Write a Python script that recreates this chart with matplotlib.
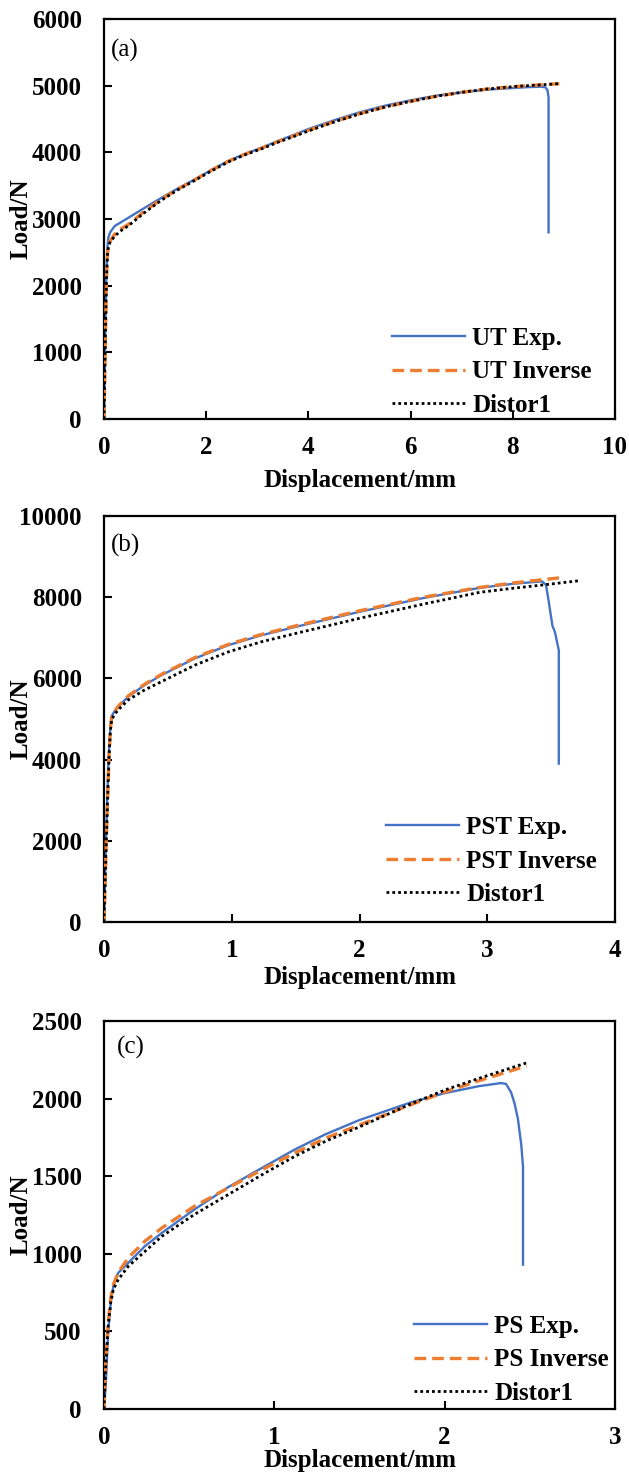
import matplotlib
matplotlib.use("Agg")
import matplotlib.pyplot as plt

plt.rcParams['font.family'] = ['Liberation Serif', 'DejaVu Serif']

# ---------------- Data ----------------
# (a) Uniaxial tension
ut_exp_x = [0.000, 0.010, 0.025, 0.045, 0.065, 0.085, 0.12, 0.21, 0.35, 0.48, 0.80, 1.13, 1.45, 1.78,
            2.10, 2.43, 2.75, 3.09, 3.40, 3.74, 4.00, 4.50, 5.00, 5.50, 6.00, 6.50, 7.00, 7.50, 8.00,
            8.30, 8.55, 8.64, 8.68, 8.70, 8.70]
ut_exp_y = [0, 500, 1300, 2100, 2550, 2720, 2800, 2895, 2960, 3020, 3170, 3320, 3460, 3595,
            3735, 3870, 3975, 4070, 4170, 4270, 4350, 4480, 4600, 4700, 4780, 4850, 4900, 4940, 4965,
            4978, 4985, 4975, 4930, 4820, 2800]
ut_inv_x = [0.000, 0.010, 0.030, 0.050, 0.070, 0.090, 0.12, 0.21, 0.35, 0.48, 0.80, 1.13, 1.45, 1.78,
            2.10, 2.43, 2.75, 3.09, 3.40, 3.74, 4.00, 4.50, 5.00, 5.50, 6.00, 6.50, 7.00, 7.50, 8.00,
            8.50, 8.91]
ut_inv_y = [0, 450, 1350, 2150, 2500, 2620, 2670, 2775, 2860, 2920, 3120, 3300, 3450, 3590,
            3730, 3865, 3970, 4065, 4160, 4255, 4330, 4460, 4580, 4680, 4765, 4840, 4900, 4950, 4985,
            5010, 5030]
ut_dis_x = [0.000, 0.010, 0.030, 0.050, 0.070, 0.090, 0.12, 0.21, 0.35, 0.48, 0.80, 1.13, 1.45, 1.78,
            2.10, 2.43, 2.75, 3.09, 3.40, 3.74, 4.00, 4.50, 5.00, 5.50, 6.00, 6.50, 7.00, 7.50, 8.00,
            8.50, 8.91]
ut_dis_y = [0, 450, 1350, 2150, 2480, 2600, 2650, 2745, 2835, 2900, 3100, 3285, 3440, 3580,
            3720, 3855, 3960, 4055, 4150, 4245, 4320, 4455, 4575, 4680, 4765, 4840, 4900, 4950, 4985,
            5010, 5030]

# (b) Plane strain tension
pst_exp_x = [0.000, 0.008, 0.016, 0.025, 0.035, 0.048, 0.058, 0.080, 0.11, 0.19, 0.32, 0.45, 0.71,
             0.97, 1.23, 1.49, 2.00, 2.50, 2.94, 3.20, 3.43, 3.46, 3.48, 3.51, 3.53, 3.56, 3.56]
pst_exp_y = [0, 1000, 2000, 3000, 4000, 4700, 5060, 5180, 5300, 5550, 5840, 6080, 6490,
             6815, 7060, 7262, 7640, 7980, 8230, 8330, 8390, 8300, 7920, 7300, 7140, 6690, 3900]
pst_inv_x = [0.000, 0.010, 0.020, 0.030, 0.040, 0.050, 0.060, 0.080, 0.11, 0.19, 0.32, 0.45, 0.71,
             0.97, 1.23, 1.49, 2.00, 2.50, 2.94, 3.20, 3.43, 3.59]
pst_inv_y = [0, 1100, 2200, 3200, 4100, 4750, 5050, 5170, 5310, 5570, 5860, 6100, 6510,
             6835, 7080, 7285, 7665, 8000, 8240, 8350, 8430, 8485]
pst_dis_x = [0.000, 0.010, 0.020, 0.030, 0.040, 0.050, 0.060, 0.080, 0.11, 0.19, 0.32, 0.45, 0.71,
             0.97, 1.23, 1.49, 2.00, 2.50, 2.94, 3.20, 3.43, 3.73]
pst_dis_y = [0, 1100, 2200, 3200, 4100, 4700, 4980, 5100, 5220, 5470, 5720, 5920, 6325,
             6650, 6900, 7100, 7480, 7830, 8120, 8220, 8300, 8410]

# (c) Plane shear
ps_exp_x = [0.000, 0.010, 0.025, 0.040, 0.050, 0.060, 0.084, 0.143, 0.24, 0.34, 0.53, 0.73, 0.93,
            1.12, 1.30, 1.50, 1.80, 2.00, 2.20, 2.33, 2.36, 2.39, 2.41, 2.43, 2.45, 2.46, 2.46]
ps_exp_y = [0, 150, 500, 690, 760, 820, 878, 942, 1049, 1135, 1285, 1430, 1555,
            1672, 1770, 1862, 1975, 2035, 2080, 2100, 2095, 2040, 1970, 1870, 1700, 1560, 930]
ps_inv_x = [0.000, 0.010, 0.025, 0.040, 0.055, 0.084, 0.143, 0.24, 0.34, 0.53, 0.73, 0.93, 1.12,
            1.30, 1.50, 1.80, 2.00, 2.20, 2.48]
ps_inv_y = [0, 300, 560, 720, 800, 880, 975, 1081, 1167, 1306, 1425, 1543, 1650,
            1745, 1830, 1960, 2042, 2115, 2210]
ps_dis_x = [0.000, 0.010, 0.025, 0.040, 0.055, 0.084, 0.143, 0.34, 0.53, 0.73, 0.93, 1.12,
            1.30, 1.50, 1.80, 2.00, 2.20, 2.48]
ps_dis_y = [0, 280, 540, 690, 770, 835, 920, 1113, 1253, 1382, 1511, 1628,
            1725, 1818, 1965, 2055, 2130, 2230]

panel_tags = ['(a)', '(b)', '(c)']
legend_labels = [['UT Exp.', 'UT Inverse', 'Distor1'],
                 ['PST Exp.', 'PST Inverse', 'Distor1'],
                 ['PS Exp.', 'PS Inverse', 'Distor1']]
x_limits = [(0, 10), (0, 4), (0, 3)]
y_limits = [(0, 6000), (0, 10000), (0, 2500)]
x_steps = [2, 1, 1]
y_steps = [1000, 2000, 500]

series = [
    ((ut_exp_x, ut_exp_y), (ut_inv_x, ut_inv_y), (ut_dis_x, ut_dis_y)),
    ((pst_exp_x, pst_exp_y), (pst_inv_x, pst_inv_y), (pst_dis_x, pst_dis_y)),
    ((ps_exp_x, ps_exp_y), (ps_inv_x, ps_inv_y), (ps_dis_x, ps_dis_y)),
]

# ---------------- Layout ----------------
W, H = 629, 1474
fig = plt.figure(figsize=(W / 100, H / 100), dpi=100)

# axes boxes in pixel coords (left, top, right, bottom)
boxes = [(104, 19, 615, 419), (104, 516, 615, 922), (104, 1021, 615, 1409)]
xlabel_y = [480, 977, 1460]
tag_pos = [(111, 50), (111, 545), (117, 1047)]
legend_pos = [(392, 372), (386, 861), (414, 1360)]

BLUE = '#4472C4'
ORANGE = '#ED7D31'
FS = 18

for i in range(3):
    l, t, r, b = boxes[i]
    ax = fig.add_axes([l / W, 1 - b / H, (r - l) / W, (b - t) / H])
    (ex, ey), (ix, iy), (dx, dy) = series[i]
    ax.plot(ex, ey, color=BLUE, lw=1.7, label=legend_labels[i][0], zorder=2)
    ax.plot(ix, iy, color=ORANGE, lw=2.4, dashes=(3.5, 1.8), label=legend_labels[i][1], zorder=3)
    ax.plot(dx, dy, color='black', lw=2.0, dashes=(1, 1.1), label=legend_labels[i][2], zorder=4)

    ax.set_xlim(*x_limits[i])
    ax.set_ylim(*y_limits[i])
    xs = x_steps[i]
    ax.set_xticks([v * xs for v in range(int(x_limits[i][1] / xs) + 1)])
    ax.set_yticks([v * y_steps[i] for v in range(int(y_limits[i][1] / y_steps[i]) + 1)])
    ax.tick_params(axis='both', direction='in', length=6, width=1.5, labelsize=FS)
    ax.tick_params(axis='y', pad=16)
    ax.tick_params(axis='x', pad=12)
    for lab in ax.get_xticklabels() + ax.get_yticklabels():
        lab.set_fontweight('bold')
    for sp in ax.spines.values():
        sp.set_linewidth(1.6)

    ax.set_xlabel('Displacement/mm', fontsize=FS, fontweight='bold')
    ax.set_ylabel('Load/N', fontsize=FS, fontweight='bold')
    ax.xaxis.label.set_va('center')
    ax.yaxis.label.set_va('center')
    ax.xaxis.set_label_coords(0.5, (b - xlabel_y[i]) / (b - t))
    ax.yaxis.set_label_coords((21 - l) / (r - l), 0.5)

    tx, ty = tag_pos[i]
    ax.text((tx - l) / (r - l), (b - ty) / (b - t), panel_tags[i], transform=ax.transAxes,
            fontsize=FS, ha='left', va='center')

    lx, ly = legend_pos[i]
    ax.legend(loc='center left', bbox_to_anchor=((lx - l) / (r - l), (b - ly) / (b - t)),
              frameon=False, borderpad=0, borderaxespad=0, handlelength=2.9,
              handletextpad=0.32, labelspacing=0.42,
              prop={'family': 'Liberation Serif', 'weight': 'bold', 'size': FS})

fig.savefig('out.png', dpi=100)
